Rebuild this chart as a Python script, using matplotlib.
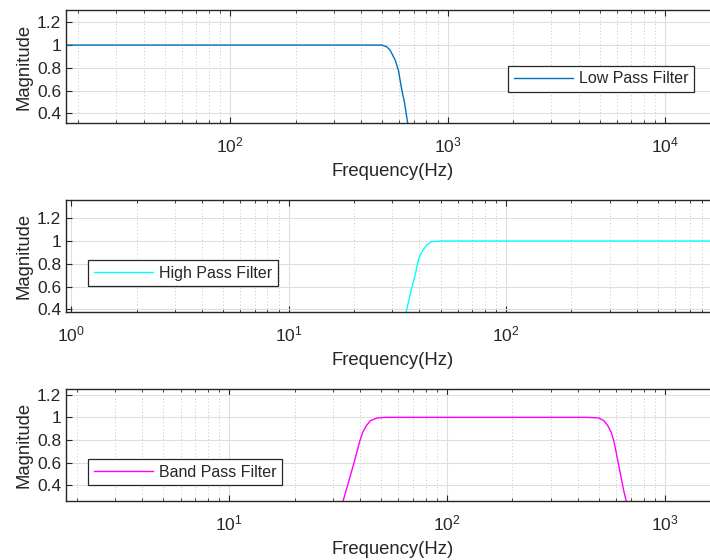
import matplotlib
matplotlib.use("Agg")
import matplotlib.pyplot as plt
from matplotlib.ticker import LogLocator, FormatStrFormatter, NullFormatter

plt.rcParams['font.family'] = ['Liberation Sans', 'DejaVu Sans']
plt.rcParams['mathtext.fontset'] = 'custom'
plt.rcParams['mathtext.rm'] = 'Liberation Sans'
plt.rcParams['mathtext.it'] = 'Liberation Sans:italic'

# ---- data ----
lp_freq = [10, 100, 480, 498, 525, 544, 574, 594, 616, 633, 656, 680]
lp_mag = [1.0, 1.0, 1.0, 1.0, 0.985, 0.956, 0.868, 0.78, 0.604, 0.50, 0.31, 0.12]

hp_freq = [33.0, 34.7, 36.5, 38.2, 39.5, 41.0, 43.2, 45.5, 49.7, 100, 1000, 20000]
hp_mag = [0.20, 0.371, 0.553, 0.70, 0.832, 0.906, 0.965, 0.994, 1.0, 1.0, 1.0, 1.0]

bp_freq = [32.0, 33.4, 35.5, 37.7, 39.9, 41.1, 42.7, 44.6, 47.9, 52.3, 100, 441,
           498.8, 525.9, 548.6, 568.7, 584.6, 601.5, 622.8, 649.7, 666.4, 690]
bp_mag = [0.13, 0.26, 0.437, 0.615, 0.793, 0.867, 0.926, 0.971, 0.995, 1.0, 1.0, 1.0,
          0.995, 0.971, 0.926, 0.867, 0.793, 0.675, 0.526, 0.348, 0.26, 0.14]

labels = ["Low Pass Filter", "High Pass Filter", "Band Pass Filter"]
colors = ["#0072BD", "#00FFFF", "#FF00FF"]
xlims = [(17.6, 17890), (0.948, 964), (1.785, 1796)]
ylims = [(0.315, 1.308), (0.376, 1.361), (0.26, 1.251)]
yticks = [0.4, 0.6, 0.8, 1.0, 1.2]
xlabel = "Frequency(Hz)"
ylabel = "Magnitude"

W, H = 710, 560
fig = plt.figure(figsize=(W / 100, H / 100), dpi=100)

# axes boxes in pixels: (left, top, right, bottom)
boxes = [(66, 10, 720, 123), (66, 200, 720, 312), (66, 389, 720, 501)]
leg_anchor = [(508.3, 65.7), (88.3, 260), (88.3, 459.3)]

series = [(lp_freq, lp_mag), (hp_freq, hp_mag), (bp_freq, bp_mag)]
dark = "#262626"

for i, ((l, t, r, b), (fx, my)) in enumerate(zip(boxes, series)):
    ax = fig.add_axes([l / W, 1 - b / H, (r - l) / W, (b - t) / H])
    ax.semilogx(fx, my, color=colors[i], lw=1.0, label=labels[i])
    ax.set_xlim(*xlims[i])
    ax.set_ylim(*ylims[i])
    ax.set_yticks(yticks)
    ax.yaxis.set_major_formatter(FormatStrFormatter('%g'))
    ax.xaxis.set_major_locator(LogLocator(base=10, numticks=10))
    ax.xaxis.set_minor_locator(LogLocator(base=10, subs=range(2, 10), numticks=20))
    ax.xaxis.set_minor_formatter(NullFormatter())
    ax.grid(True, which='major', color='#dedede', lw=0.8, ls='-')
    ax.grid(True, which='minor', axis='x', color='#c4c4c4', lw=0.7, ls=(0, (1, 2.5)))
    ax.set_axisbelow(True)
    ax.tick_params(which='both', direction='in', top=True, right=True, colors=dark,
                   labelsize=12.5, labelcolor=dark)
    ax.tick_params(which='major', length=4.5, width=0.8)
    ax.tick_params(which='minor', length=2.5, width=0.6)
    ax.tick_params(axis='x', which='major', pad=9)
    ax.tick_params(axis='y', which='major', pad=3.5)
    for s in ax.spines.values():
        s.set_color(dark)
        s.set_linewidth(1.0)
    ax.set_xlabel(xlabel, fontsize=13.3, color=dark, labelpad=5.5)
    ax.set_ylabel(ylabel, fontsize=13.3, color=dark)
    ax.yaxis.set_label_coords((33 - l) / (r - l), 0.5)
    ax_x, ax_y = leg_anchor[i]
    leg = ax.legend(loc='upper left', bbox_to_anchor=(ax_x / W, 1 - ax_y / H),
                    bbox_transform=fig.transFigure, borderaxespad=0,
                    fontsize=11.5, handlelength=3.7, handletextpad=0.4,
                    borderpad=0.35, fancybox=False, framealpha=1, shadow=False)
    leg.get_frame().set_edgecolor(dark)
    leg.get_frame().set_linewidth(0.9)
    for txt in leg.get_texts():
        txt.set_color(dark)

fig.savefig("out.png", dpi=100)
